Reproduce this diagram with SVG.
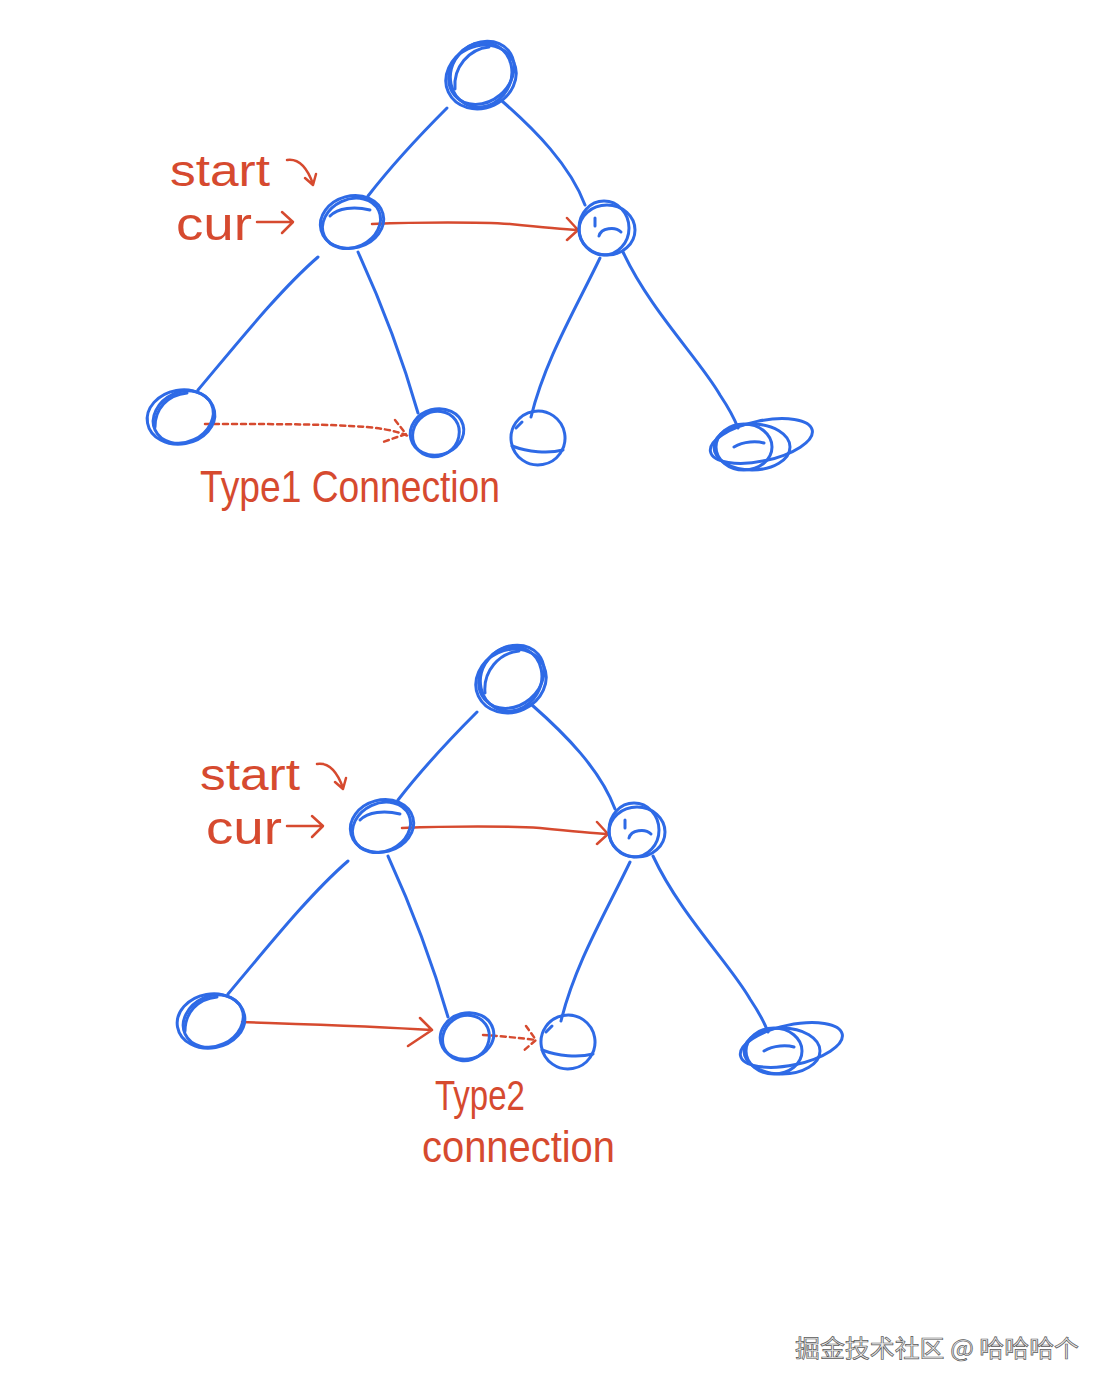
<svg xmlns="http://www.w3.org/2000/svg" width="1115" height="1397" viewBox="0 0 1115 1397">
<style>
.b{fill:none;stroke:#2e6ae6;stroke-width:3;stroke-linecap:round;stroke-linejoin:round}
.r{fill:none;stroke:#d64a2f;stroke-width:2.5;stroke-linecap:round;stroke-linejoin:round}
.d{stroke-dasharray:5 4}
.t{font-family:"Liberation Sans","DejaVu Sans",sans-serif;fill:#d64a2f;font-weight:normal}
.w{font-family:"Noto Sans CJK SC","Noto Sans",sans-serif;font-size:24px;fill:#ececec;stroke:#5a5a5a;stroke-width:0.7}
</style>
<rect width="1115" height="1397" fill="#fff"/>

<!-- TREE 1 -->
<g id="edges1">
<path class="b" d="M447,108 C420,135 392,165 368,196"/>
<path class="b" d="M502,101 C535,130 570,165 585,205"/>
<path class="b" d="M318,257 C280,290 240,340 198,390"/>
<path class="b" d="M358,252 C380,300 400,350 418,413"/>
<path class="b" d="M600,258 C575,310 545,360 531,417"/>
<path class="b" d="M623,252 C650,310 700,360 720,395 C730,410 735,420 738,428"/>
<path class="r" d="M372,224 C420,222 480,222 510,224 C540,227 560,229 578,230 M567,218 L578,230 L567,240"/>
<path class="r d" d="M205,424 C260,424 320,424 350,426 C375,427 395,430 408,436"/>
<path class="r d" d="M395,420 L406,434 L383,442"/>
</g>
<g id="n1-root" transform="translate(481,77)">
<ellipse class="b" rx="36" ry="31" transform="rotate(-25)"/>
<ellipse class="b" cx="3" cy="-3" rx="35" ry="29" transform="rotate(-40)"/>
<ellipse class="b" cx="2" cy="-1" rx="33" ry="30" transform="rotate(-60)"/>
<path class="b" d="M-26,12 C-28,-10 -12,-28 8,-30"/>
</g>
<g id="n1-lm" transform="translate(352,222)">
<ellipse class="b" rx="32" ry="26" transform="rotate(-15)"/>
<ellipse class="b" cx="-1" cy="1" rx="30" ry="24" transform="rotate(-25)"/>
<path class="b" d="M-22,-6 C-14,-14 2,-16 18,-12"/>
</g>
<g id="n1-rm" transform="translate(607,230)">
<ellipse class="b" rx="28" ry="25"/>
<ellipse class="b" cx="-3" cy="-2" rx="25" ry="27"/>
<path class="b" d="M-8,6 C-6,-2 8,-4 14,2 M-12,-12 L-12,-4"/>
</g>
<g id="n1-l1" transform="translate(181,417)">
<ellipse class="b" rx="34" ry="27" transform="rotate(-10)"/>
<ellipse class="b" cx="2" cy="1" rx="31" ry="25" transform="rotate(-25)"/>
<path class="b" d="M-26,10 C-26,-8 -14,-22 6,-24"/>
</g>
<g id="n1-l2" transform="translate(437,432)">
<ellipse class="b" rx="27" ry="23" transform="rotate(-15)"/>
<ellipse class="b" cx="-2" cy="1" rx="24" ry="22" transform="rotate(-35)"/>
</g>
<g id="n1-l3" transform="translate(538,438)">
<ellipse class="b" rx="27" ry="27" transform="rotate(-10)"/>
<path class="b" d="M-26,8 C-10,14 10,16 25,12 M-22,-10 L-16,-16"/>
</g>
<g id="n1-l4" transform="translate(752,445)">
<ellipse class="b" cx="10" cy="-2" rx="52" ry="20" transform="rotate(-12)"/>
<ellipse class="b" cx="0" cy="2" rx="38" ry="23"/>
<ellipse class="b" cx="-8" cy="2" rx="28" ry="23"/>
<path class="b" d="M-18,2 C-8,-4 5,-4 12,-2"/>
</g>
<g id="labels1">
<text class="t" x="170" y="186" font-size="44" textLength="100" lengthAdjust="spacingAndGlyphs">start</text>
<path class="r" d="M287,160 C300,158 308,170 313,184 M305,178 L313,185 L316,174"/>
<text class="t" x="176" y="240" font-size="46" textLength="76" lengthAdjust="spacingAndGlyphs">cur</text>
<path class="r" d="M257,222 L292,222 M282,212 L293,222 L282,233"/>
<text class="t" x="200" y="502" font-size="44" textLength="300" lengthAdjust="spacingAndGlyphs">Type1 Connection</text>
</g>

<!-- TREE 2 -->
<g id="edges2">
<path class="b" d="M477,712 C450,739 422,769 398,800"/>
<path class="b" d="M532,705 C565,734 600,769 615,809"/>
<path class="b" d="M348,861 C310,894 270,944 228,994"/>
<path class="b" d="M388,856 C410,904 430,954 448,1017"/>
<path class="b" d="M630,862 C605,914 575,964 561,1021"/>
<path class="b" d="M653,856 C680,914 730,964 750,999 C760,1014 765,1024 768,1032"/>
<path class="r" d="M402,828 C450,826 510,826 540,828 C570,831 590,833 608,834 M597,822 L608,834 L597,844"/>
<path class="r" d="M242,1022 C300,1024 370,1026 432,1030 M420,1018 L432,1030 L408,1046"/>
<path class="r d" d="M483,1035 C500,1036 520,1038 536,1040"/>
<path class="r d" d="M526,1026 L536,1040 L522,1052"/>
</g>
<g id="n2-root" transform="translate(511,681)">
<ellipse class="b" rx="36" ry="31" transform="rotate(-25)"/>
<ellipse class="b" cx="3" cy="-3" rx="35" ry="29" transform="rotate(-40)"/>
<ellipse class="b" cx="2" cy="-1" rx="33" ry="30" transform="rotate(-60)"/>
<path class="b" d="M-26,12 C-28,-10 -12,-28 8,-30"/>
</g>
<g id="n2-lm" transform="translate(382,826)">
<ellipse class="b" rx="32" ry="26" transform="rotate(-15)"/>
<ellipse class="b" cx="-1" cy="1" rx="30" ry="24" transform="rotate(-25)"/>
<path class="b" d="M-22,-6 C-14,-14 2,-16 18,-12"/>
</g>
<g id="n2-rm" transform="translate(637,832)">
<ellipse class="b" rx="28" ry="25"/>
<ellipse class="b" cx="-3" cy="-2" rx="25" ry="27"/>
<path class="b" d="M-8,6 C-6,-2 8,-4 14,2 M-12,-12 L-12,-4"/>
</g>
<g id="n2-l1" transform="translate(211,1021)">
<ellipse class="b" rx="34" ry="27" transform="rotate(-10)"/>
<ellipse class="b" cx="2" cy="1" rx="31" ry="25" transform="rotate(-25)"/>
<path class="b" d="M-26,10 C-26,-8 -14,-22 6,-24"/>
</g>
<g id="n2-l2" transform="translate(467,1036)">
<ellipse class="b" rx="27" ry="23" transform="rotate(-15)"/>
<ellipse class="b" cx="-2" cy="1" rx="24" ry="22" transform="rotate(-35)"/>
</g>
<g id="n2-l3" transform="translate(568,1042)">
<ellipse class="b" rx="27" ry="27" transform="rotate(-10)"/>
<path class="b" d="M-26,8 C-10,14 10,16 25,12 M-22,-10 L-16,-16"/>
</g>
<g id="n2-l4" transform="translate(782,1049)">
<ellipse class="b" cx="10" cy="-2" rx="52" ry="20" transform="rotate(-12)"/>
<ellipse class="b" cx="0" cy="2" rx="38" ry="23"/>
<ellipse class="b" cx="-8" cy="2" rx="28" ry="23"/>
<path class="b" d="M-18,2 C-8,-4 5,-4 12,-2"/>
</g>
<g id="labels2">
<text class="t" x="200" y="790" font-size="44" textLength="100" lengthAdjust="spacingAndGlyphs">start</text>
<path class="r" d="M317,764 C330,762 338,774 343,788 M335,782 L343,789 L346,778"/>
<text class="t" x="206" y="844" font-size="46" textLength="76" lengthAdjust="spacingAndGlyphs">cur</text>
<path class="r" d="M287,826 L322,826 M312,816 L323,826 L312,837"/>
<text class="t" x="435" y="1110" font-size="42" textLength="90" lengthAdjust="spacingAndGlyphs">Type2</text>
<text class="t" x="422" y="1162" font-size="44" textLength="193" lengthAdjust="spacingAndGlyphs">connection</text>
</g>

<text id="watermark" class="w" x="795" y="1357" textLength="284" lengthAdjust="spacingAndGlyphs">掘金技术社区 @ 哈哈哈个</text>
</svg>
